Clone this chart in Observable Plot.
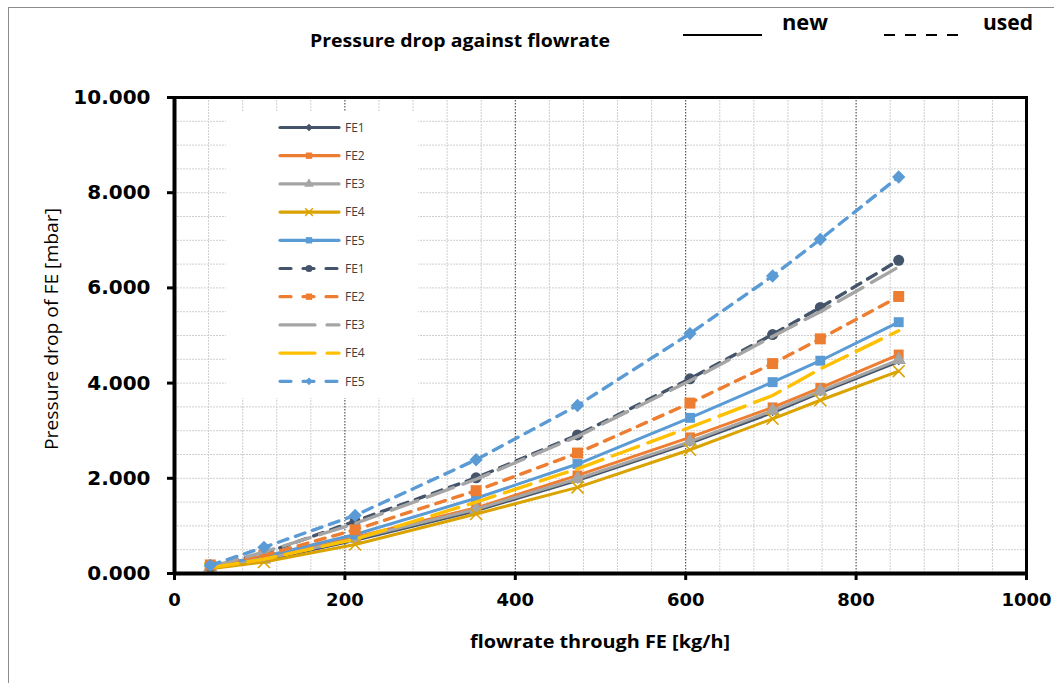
<!DOCTYPE html>
<html>
<head>
<meta charset="utf-8">
<script src="https://cdn.jsdelivr.net/npm/d3@7"></script>
<script src="https://cdn.jsdelivr.net/npm/@observablehq/plot@0.6"></script>
<style>
  html, body { margin: 0; padding: 0; background: #fff; }
  #wrap { position: relative; width: 1054px; height: 683px; overflow: hidden; }
  #border { position: absolute; left: 8px; top: 7px; width: 1060px; height: 700px; border-left: 1px solid #8c8c8c; border-top: 1px solid #8c8c8c; }
  #chart { position: absolute; left: 0; top: 0; }
  #overlay { position: absolute; left: 0; top: 0; pointer-events: none; }
</style>
</head>
<body>
<div id="wrap">
  <div id="border"></div>
  <div id="chart"></div>
  <svg id="overlay" width="1054" height="683"></svg>
</div>
<script>
// ---- data ----
const flowrate = [42, 105, 212, 354, 473, 605, 702, 758, 850];

const newFE1 = [0.12, 0.28, 0.70, 1.32, 1.96, 2.74, 3.38, 3.80, 4.45];
const newFE2 = [0.15, 0.32, 0.76, 1.38, 2.06, 2.86, 3.49, 3.90, 4.60];
const newFE3 = [0.13, 0.30, 0.73, 1.35, 1.99, 2.77, 3.42, 3.83, 4.49];
const newFE4 = [0.10, 0.24, 0.61, 1.25, 1.81, 2.60, 3.25, 3.64, 4.25];
const newFE5 = [0.16, 0.36, 0.82, 1.58, 2.30, 3.27, 4.02, 4.47, 5.28];

const usedFE1 = [0.15, 0.42, 1.10, 2.01, 2.91, 4.09, 5.02, 5.59, 6.58];
const usedFE2 = [0.18, 0.38, 0.92, 1.74, 2.53, 3.58, 4.41, 4.93, 5.82];
const usedFE3 = [0.14, 0.45, 1.05, 1.98, 2.88, 4.05, 4.98, 5.50, 6.44];
const usedFE4 = [0.12, 0.30, 0.72, 1.50, 2.20, 3.07, 3.74, 4.30, 5.10];
const usedFE5 = [0.17, 0.55, 1.22, 2.39, 3.53, 5.04, 6.25, 7.02, 8.33];

const seriesNames = ["FE1", "FE2", "FE3", "FE4", "FE5", "FE1", "FE2", "FE3", "FE4", "FE5"];
const xTicks = [0, 200, 400, 600, 800, 1000];
const yTicks = [0, 2, 4, 6, 8, 10];

// ---- styles ----
const series = [
  {name: "FE1", vals: newFE1,  color: "#44546A", dash: null,    symbol: "diamond2", r: 3.2, markFill: true},
  {name: "FE2", vals: newFE2,  color: "#ED7D31", dash: null,    symbol: "square",   r: 5.6, markFill: true},
  {name: "FE3", vals: newFE3,  color: "#A5A5A5", dash: null,    symbol: "triangle", r: 5.4, markFill: true},
  {name: "FE4", vals: newFE4,  color: "#DBA300", dash: null,    symbol: "times",    r: 5.5, markFill: false},
  {name: "FE5", vals: newFE5,  color: "#5B9BD5", dash: null,    symbol: "square",   r: 5.6, markFill: true},
  {name: "FE1", vals: usedFE1, color: "#44546A", dash: "10,8",  symbol: "circle",   r: 5.5, markFill: true},
  {name: "FE2", vals: usedFE2, color: "#ED7D31", dash: "10,8",  symbol: "square",   r: 6.2, markFill: true},
  {name: "FE3", vals: usedFE3, color: "#A5A5A5", dash: "28,10", symbol: null},
  {name: "FE4", vals: usedFE4, color: "#FFC000", dash: "28,10", symbol: null},
  {name: "FE5", vals: usedFE5, color: "#5B9BD5", dash: "10,8",  symbol: "diamond2", r: 6.0, markFill: true}
];

const minorX = d3.range(40, 1000, 40).filter(v => v % 200 !== 0);
const majorX = [200, 400, 600, 800];
const minorY = d3.range(0.5, 10, 0.5);

const marks = [
  Plot.ruleX(minorX, {stroke: "#cfcfcf", strokeWidth: 1, strokeDasharray: "2,1"}),
  Plot.ruleY(minorY, {stroke: "#cfcfcf", strokeWidth: 1, strokeDasharray: "2,1"}),
  Plot.ruleX(majorX, {stroke: "#333", strokeWidth: 1, strokeDasharray: "1.5,1.5"})
];

series.forEach((s) => {
  const rows = flowrate.map((f, j) => ({x: f, y: s.vals[j]}));
  marks.push(Plot.line(rows, {
    x: "x", y: "y", stroke: s.color,
    strokeWidth: s.dash ? 3.4 : 3,
    strokeDasharray: s.dash || undefined,
    strokeLinecap: "round"
  }));
  if (s.symbol) {
    marks.push(Plot.dot(rows, s.markFill
      ? {x: "x", y: "y", symbol: s.symbol, r: s.r, fill: s.color, stroke: "none"}
      : {x: "x", y: "y", symbol: s.symbol, r: s.r, stroke: s.color, strokeWidth: 1.6, fill: "none"}));
  }
});

marks.push(
  Plot.frame({stroke: "#000", strokeWidth: 3}),
  Plot.ruleX([0], {stroke: "#000", strokeWidth: 4}),
  Plot.ruleY([0], {stroke: "#000", strokeWidth: 4}),
  Plot.axisY({ticks: yTicks, tickSize: 7, tickPadding: 17, strokeWidth: 3,
    tickFormat: d3.format(".3f"), label: null,
    fontSize: 20, fontWeight: "bold", fontFamily: "DejaVu Sans", fill: "#000"}),
  Plot.axisX({ticks: xTicks, tickSize: 7, tickPadding: 13, strokeWidth: 3,
    tickFormat: d => String(d), label: null,
    fontSize: 18, fontWeight: "bold", fontFamily: "DejaVu Sans", fill: "#000"})
);

const chart = Plot.plot({
  width: 1054, height: 683,
  marginLeft: 174, marginRight: 28, marginTop: 97, marginBottom: 110,
  x: {domain: [0, 1000]},
  y: {domain: [0, 10]},
  style: {background: "transparent", overflow: "visible"},
  marks
});
document.getElementById("chart").appendChild(chart);

// ---- overlay: titles and legends ----
const ov = d3.select("#overlay");
const font = "'Open Sans', 'Noto Sans', sans-serif";

ov.append("text").attr("x", 310).attr("y", 47)
  .attr("font-family", font).attr("font-weight", "bold").attr("font-size", 18)
  .attr("textLength", 300).attr("lengthAdjust", "spacingAndGlyphs")
  .attr("fill", "#000").text("Pressure drop against flowrate");

ov.append("line").attr("x1", 683).attr("x2", 762).attr("y1", 35).attr("y2", 35)
  .attr("stroke", "#000").attr("stroke-width", 2);
ov.append("text").attr("x", 782).attr("y", 30)
  .attr("font-family", font).attr("font-weight", "bold").attr("font-size", 21)
  .attr("textLength", 46).attr("lengthAdjust", "spacingAndGlyphs")
  .attr("fill", "#000").text("new");
ov.append("line").attr("x1", 884).attr("x2", 960).attr("y1", 35).attr("y2", 35)
  .attr("stroke", "#000").attr("stroke-width", 2).attr("stroke-dasharray", "11,10");
ov.append("text").attr("x", 983).attr("y", 30)
  .attr("font-family", font).attr("font-weight", "bold").attr("font-size", 21)
  .attr("textLength", 50).attr("lengthAdjust", "spacingAndGlyphs")
  .attr("fill", "#000").text("used");

// axis titles
ov.append("text").attr("x", 470).attr("y", 648)
  .attr("font-family", font).attr("font-weight", "bold").attr("font-size", 18)
  .attr("textLength", 260).attr("lengthAdjust", "spacingAndGlyphs")
  .attr("fill", "#000").text("flowrate through FE [kg/h]");
ov.append("text").attr("transform", "translate(58,450) rotate(-90)")
  .attr("font-family", font).attr("font-size", 17.5)
  .attr("textLength", 242).attr("lengthAdjust", "spacingAndGlyphs")
  .attr("fill", "#000").text("Pressure drop of FE [mbar]");

// series legend
ov.append("rect").attr("x", 226).attr("y", 112).attr("width", 192).attr("height", 286).attr("fill", "#fff");
const symMap = {diamond2: d3.symbolSquare, square: d3.symbolSquare, triangle: d3.symbolTriangle, times: d3.symbolTimes, circle: d3.symbolCircle};
series.forEach((s, i) => {
  const y = 127.5 + i * 28.2;
  const g = ov.append("g");
  g.append("line").attr("x1", 280).attr("x2", 339).attr("y1", y).attr("y2", y)
    .attr("stroke", s.color).attr("stroke-width", 3.2).attr("stroke-linecap", "round")
    .attr("stroke-dasharray", s.dash ? (s.dash === "28,10" ? "35,12" : "11,12") : null);
  if (s.symbol) {
    const size = s.symbol === "diamond2" ? 30 : 40;
    const p = d3.symbol().type(symMap[s.symbol]).size(size)();
    const rot = s.symbol === "diamond2" ? " rotate(45)" : "";
    g.append("path").attr("d", p).attr("transform", `translate(309,${y})${rot}`)
      .attr("fill", s.markFill ? s.color : "none").attr("stroke", s.markFill ? "none" : s.color)
      .attr("stroke-width", 1.5);
  }
  g.append("text").attr("x", 345).attr("y", y).attr("dy", "0.35em")
    .attr("font-family", "'Open Sans', sans-serif").attr("font-size", 12)
    .attr("fill", "#404040").text(seriesNames[i]);
});
</script>
</body>
</html>
